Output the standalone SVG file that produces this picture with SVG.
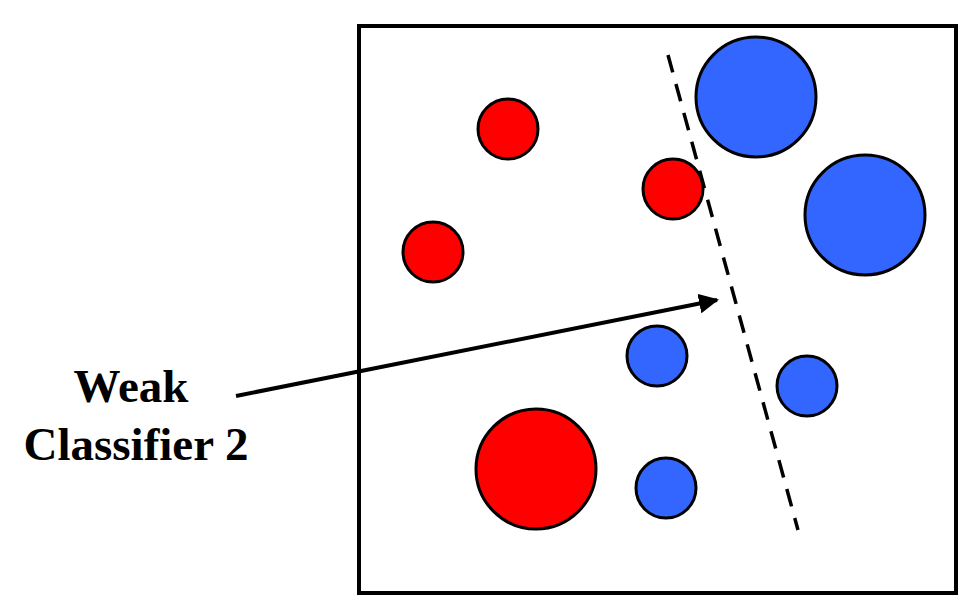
<svg xmlns="http://www.w3.org/2000/svg" width="965" height="603" viewBox="0 0 965 603">
<style>
.red{fill:#FF0000;stroke:#000;stroke-width:3}
.blue{fill:#3366FF;stroke:#000;stroke-width:3}
.lbl{font-family:"Liberation Serif","Times New Roman",serif;font-weight:bold;font-size:47px;fill:#000;text-anchor:middle}
</style>
<defs>
<marker id="ah" viewBox="0 0 10 10" refX="9" refY="5" markerWidth="5" markerHeight="5" orient="auto" markerUnits="strokeWidth">
<path d="M0,0 L10,5 L0,10 z" fill="#000"/>
</marker>
</defs>
<rect width="965" height="603" fill="#fff"/>
<g id="box"><rect x="359" y="26" width="597" height="567" fill="none" stroke="#000" stroke-width="4"/></g>
<g id="circles">
<circle id="r1" class="red" cx="508" cy="129" r="30"/>
<circle id="r2" class="red" cx="673" cy="189" r="30"/>
<circle id="r3" class="red" cx="433" cy="252" r="30"/>
<circle id="r4" class="red" cx="536" cy="469" r="60"/>
<circle id="b1" class="blue" cx="756" cy="97" r="60"/>
<circle id="b2" class="blue" cx="865" cy="215" r="60"/>
<circle id="b3" class="blue" cx="657" cy="356" r="30"/>
<circle id="b4" class="blue" cx="807" cy="386" r="30"/>
<circle id="b5" class="blue" cx="666" cy="488" r="30"/>
</g>
<g id="classifier"><line x1="668" y1="55" x2="798" y2="530" stroke="#000" stroke-width="3.5" stroke-dasharray="18,12"/></g>
<g id="label">
<text class="lbl" x="131" y="402">Weak</text>
<text class="lbl" x="136" y="460">Classifier 2</text>
</g>
<g id="connectors"><line x1="236" y1="396" x2="717" y2="300" stroke="#000" stroke-width="4" marker-end="url(#ah)"/></g>
</svg>
